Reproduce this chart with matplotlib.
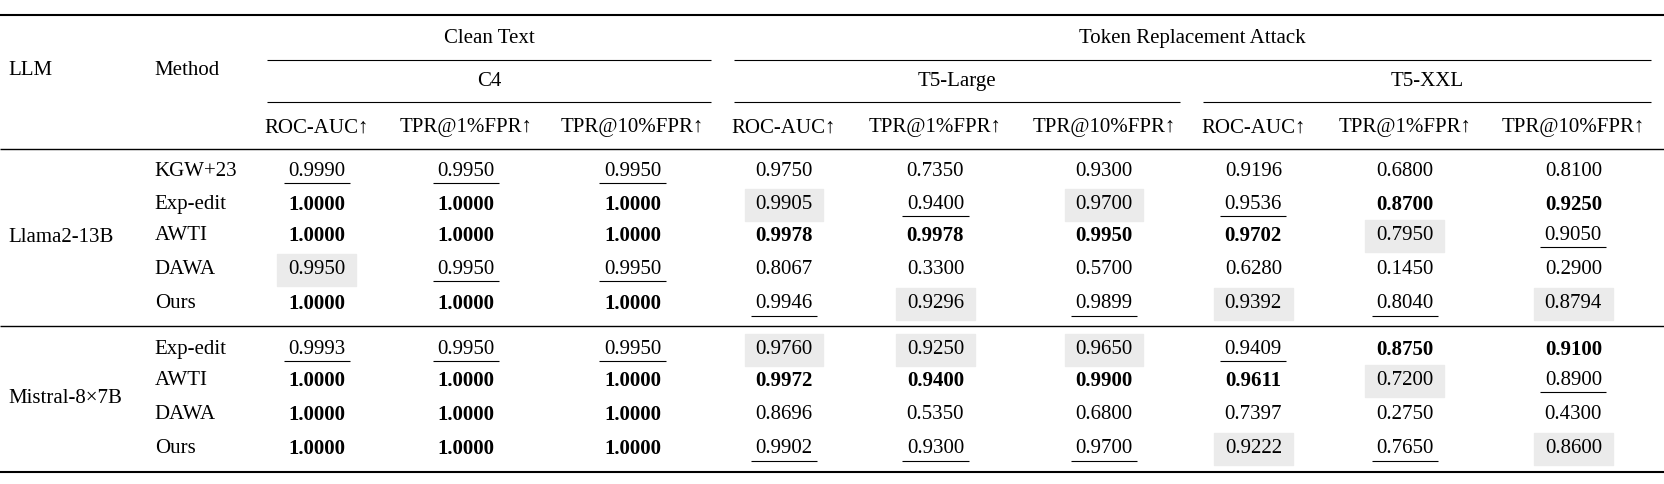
import matplotlib.pyplot as plt
from matplotlib.patches import Rectangle

plt.rcParams['font.family'] = ['Liberation Serif', 'DejaVu Serif']

metrics = ["ROC-AUC↑", "TPR@1%FPR↑", "TPR@10%FPR↑"] * 3
llms = ["Llama2-13B", "Mistral-8×7B"]
methods_llama = ["KGW+23", "Exp-edit", "AWTI", "DAWA", "Ours"]
methods_mistral = ["Exp-edit", "AWTI", "DAWA", "Ours"]

vals_llama = [
    ["0.9990", "0.9950", "0.9950", "0.9750", "0.7350", "0.9300", "0.9196", "0.6800", "0.8100"],
    ["1.0000", "1.0000", "1.0000", "0.9905", "0.9400", "0.9700", "0.9536", "0.8700", "0.9250"],
    ["1.0000", "1.0000", "1.0000", "0.9978", "0.9978", "0.9950", "0.9702", "0.7950", "0.9050"],
    ["0.9950", "0.9950", "0.9950", "0.8067", "0.3300", "0.5700", "0.6280", "0.1450", "0.2900"],
    ["1.0000", "1.0000", "1.0000", "0.9946", "0.9296", "0.9899", "0.9392", "0.8040", "0.8794"],
]
style_llama = [
    "uuunnnnnn",
    "bbbgugubb",
    "bbbbbbbgu",
    "guunnnnnn",
    "bbbugugug",
]
vals_mistral = [
    ["0.9993", "0.9950", "0.9950", "0.9760", "0.9250", "0.9650", "0.9409", "0.8750", "0.9100"],
    ["1.0000", "1.0000", "1.0000", "0.9972", "0.9400", "0.9900", "0.9611", "0.7200", "0.8900"],
    ["1.0000", "1.0000", "1.0000", "0.8696", "0.5350", "0.6800", "0.7397", "0.2750", "0.4300"],
    ["1.0000", "1.0000", "1.0000", "0.9902", "0.9300", "0.9700", "0.9222", "0.7650", "0.8600"],
]
style_mistral = [
    "uuugggubb",
    "bbbbbbbgu",
    "bbbnnnnnn",
    "bbbuuugug",
]

fig = plt.figure(figsize=(16.64, 4.84), dpi=100)
ax = fig.add_axes([0, 0, 1, 1])
# layout coordinates measured on a 1560-wide view of the reference
ax.set_xlim(0, 1560)
ax.set_ylim(454, 0)
ax.axis('off')

fs = 15
col_x = [297, 437, 593, 735, 877, 1035, 1175, 1317, 1475]

def hline(y, x0, x1, lw=1.0):
    ax.plot([x0, x1], [y, y], color='black', lw=lw, solid_capstyle='butt')

hline(14, 0, 1560, 1.5)
hline(56, 250, 667, 0.8)
hline(56, 688, 1548, 0.8)
hline(96, 250, 667, 0.8)
hline(96, 688, 1106, 0.8)
hline(96, 1128, 1548, 0.8)
hline(140, 0, 1560, 1.0)
hline(306, 0, 1560, 1.0)
hline(443, 0, 1560, 1.5)

ax.text(8, 66, "LLM", fontsize=fs, va='center', ha='left')
ax.text(145, 66, "Method", fontsize=fs, va='center', ha='left')
ax.text(459, 36, "Clean Text", fontsize=fs, va='center', ha='center')
ax.text(1118, 36, "Token Replacement Attack", fontsize=fs, va='center', ha='center')
ax.text(459, 76, "C4", fontsize=fs, va='center', ha='center')
ax.text(897, 76, "T5-Large", fontsize=fs, va='center', ha='center')
ax.text(1338, 76, "T5-XXL", fontsize=fs, va='center', ha='center')
for x, m in zip(col_x, metrics):
    ax.text(x, 120, m, fontsize=fs, va='center', ha='center')

def block(llm, methods, vals, styles, ys):
    ax.text(8, sum(ys) / len(ys), llm, fontsize=fs, va='center', ha='left')
    for y, meth, row, st in zip(ys, methods, vals, styles):
        ax.text(145, y, meth, fontsize=fs, va='center', ha='left')
        for x, v, s in zip(col_x, row, st):
            if s == 'g':
                ax.add_patch(Rectangle((x - 37, y - 15), 74, 30, color='#ebebeb', zorder=0))
            ax.text(x, y, v, fontsize=fs, va='center', ha='center',
                    fontweight='bold' if s == 'b' else 'normal')
            if s == 'u':
                hline(y + 11, x - 31, x + 31, 0.8)

block(llms[0], methods_llama, vals_llama, style_llama, [161, 192, 221, 253, 285])
block(llms[1], methods_mistral, vals_mistral, style_mistral, [328, 357, 389, 421])

fig.savefig("out.png", dpi=100)
